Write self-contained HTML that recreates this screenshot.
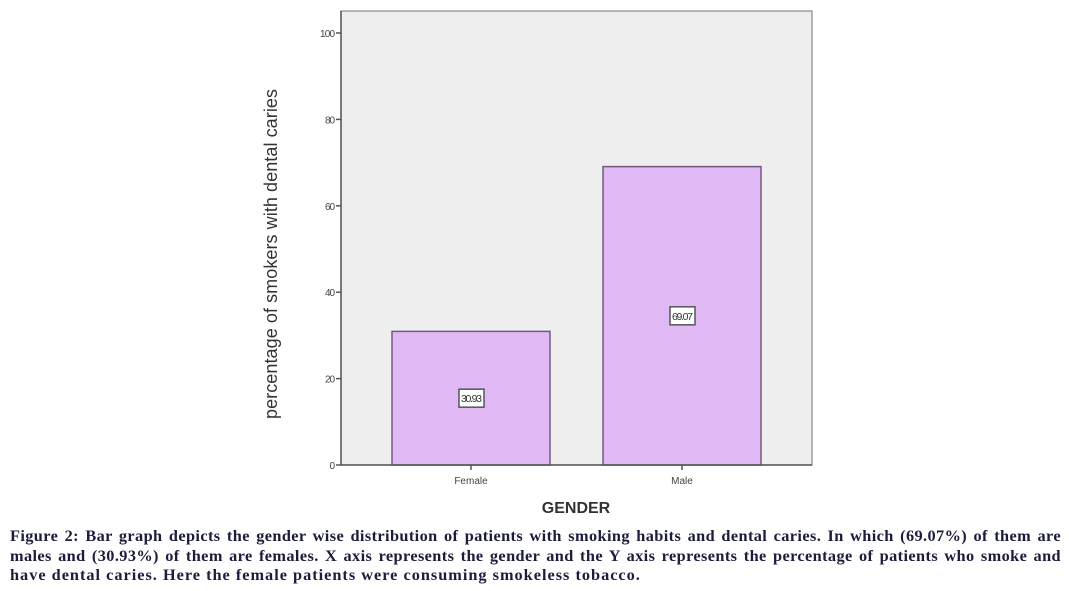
<!DOCTYPE html>
<html><head><meta charset="utf-8"><style>
body{margin:0;width:1069px;height:591px;background:#fff;overflow:hidden;position:relative;font-family:"Liberation Sans",sans-serif}
.cap{position:absolute;left:10px;width:1051px;font-family:"Liberation Serif",serif;font-weight:bold;font-size:16.3px;color:#1c1c3c;white-space:nowrap;letter-spacing:0.4px}
.j{text-align:justify;text-align-last:justify}
</style></head><body>
<svg id="chart" width="1069" height="520" style="position:absolute;left:0;top:0" font-family="Liberation Sans, sans-serif"></svg>
<div class="cap j" style="top:526px">Figure 2: Bar graph depicts the gender wise distribution of patients with smoking habits and dental caries. In which (69.07%) of them are</div>
<div class="cap j" style="top:546px">males and (30.93%) of them are females. X axis represents the gender and the Y axis represents the percentage of patients who smoke and</div>
<div class="cap" style="top:565px;letter-spacing:1px">have dental caries. Here the female patients were consuming smokeless tobacco.</div>
<script>
const categories=["Female","Male"];
const values=[30.93,69.07];
const yTicks=[0,20,40,60,80,100];
const ns="http://www.w3.org/2000/svg";
const svg=document.getElementById('chart');
const L=341,R=812,T=11,B=465;
const y=v=>B-v*(B-33)/100;
const pad=130,step=211;
const x=i=>L+pad+step*i;
const barW=158;
function mk(t,a,p){const e=document.createElementNS(ns,t);for(const k in a)e.setAttribute(k,a[k]);(p||svg).appendChild(e);return e;}
const plot=mk('rect',{x:L,y:T,width:R-L,height:B-T,fill:'#eeeeee',stroke:'#888',"stroke-width":1.2});


yTicks.forEach(v=>{
  const tk=mk('line',{x1:L-5,x2:L,y1:y(v),y2:y(v),stroke:'#555',"stroke-width":1.5});
  
  
  const t=mk('text',{x:L-6,y:y(v)+4,"text-anchor":"end","font-size":10,fill:'#444',"textLength":v===100?15:(v===0?6:10)});
  t.textContent=v;
  
  
});
categories.forEach((c,i)=>{
  const b=mk('rect',{x:x(i)-barW/2,y:y(values[i]),width:barW,height:B-y(values[i]),fill:'#dfb8f4',stroke:'#735a80',"stroke-width":1.5});
  
  
  const my=y(values[i]/2);
  const lb=mk('rect',{x:x(i)-12,y:my-9,width:25,height:18,fill:'#fff',stroke:'#555',"stroke-width":1.5});
  
  
  const vt=mk('text',{x:x(i)+0.5,y:my+4,"text-anchor":"middle","font-size":10.5,fill:'#333',"textLength":21});
  vt.textContent=values[i].toFixed(2);
  
  
  const tk=mk('line',{x1:x(i),x2:x(i),y1:B,y2:B+5,stroke:'#555',"stroke-width":1.5});
  
  
  const ct=mk('text',{x:x(i),y:B+19,"text-anchor":"middle","font-size":10,fill:'#444'});
  ct.textContent=c;
  
  
});
const xa=mk('line',{x1:L,x2:R,y1:B,y2:B,stroke:'#555',"stroke-width":1.5});


const ya=mk('line',{x1:L,x2:L,y1:T,y2:B,stroke:'#555',"stroke-width":1.5});


const xt=mk('text',{x:576,y:513,"text-anchor":"middle","font-size":16,"font-weight":"bold",fill:'#333'});
xt.textContent='GENDER';


const yt=mk('text',{x:0,y:0,"text-anchor":"middle","font-size":18,fill:'#333',transform:'translate(277,254) rotate(-90)',"textLength":330});
yt.textContent='percentage of smokers with dental caries';


</script>
</body></html>
